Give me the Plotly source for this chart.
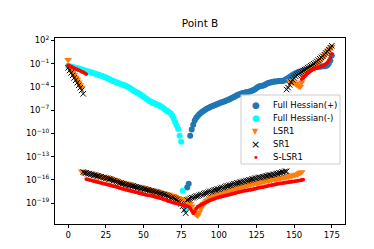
import plotly.graph_objects as go

# ---------------- data (log10 of eigenvalue magnitudes, by index) ----------------
hess_neg_x = list(range(0, 79))
hess_neg_log = [
    -1.3, -1.35, -1.4, -1.45, -1.5, -1.55, -1.6, -1.65, -1.7, -1.75,
    -1.82, -1.88, -1.95, -2.01, -2.07, -2.13, -2.19, -2.25, -2.31, -2.37,
    -2.43, -2.5, -2.57, -2.64, -2.72, -2.81, -2.9, -2.99, -3.08, -3.17,
    -3.26, -3.34, -3.42, -3.5, -3.58, -3.65, -3.72, -3.78, -3.85, -3.94,
    -4.04, -4.16, -4.3, -4.45, -4.58, -4.68, -4.77, -4.88, -5.0, -5.14,
    -5.28, -5.42, -5.56, -5.7, -5.82, -5.93, -6.03, -6.12, -6.2, -6.28,
    -6.36, -6.46, -6.58, -6.72, -6.88, -7.02, -7.15, -7.28, -7.42, -7.7,
    -8.1, -8.55, -9.0, -9.45, -10.3, -11.1,
    -17.4, -19.2, -19.8,
]

hess_pos_x = list(range(79, 176))
hess_pos_log = [
    -17.0, -16.5,
    -10.3, -9.5, -8.9, -8.35, -8.0, -7.75, -7.55, -7.38, -7.22, -7.08,
    -6.95, -6.84, -6.74, -6.64, -6.55, -6.46, -6.38, -6.3, -6.22, -6.14,
    -6.06, -5.98, -5.92, -5.86, -5.78, -5.7, -5.6, -5.5, -5.4, -5.3,
    -5.2, -5.1, -5.02, -4.94, -4.86, -4.8, -4.75, -4.7, -4.66, -4.62,
    -4.58, -4.52, -4.42, -4.3, -4.15, -4.02, -3.94, -3.9, -3.87, -3.8,
    -3.7, -3.58, -3.5, -3.45, -3.4, -3.36, -3.32, -3.3, -3.28, -3.26,
    -3.25, -3.24, -3.2, -3.1, -2.98, -2.85, -2.72, -2.6, -2.48, -2.36,
    -2.24, -2.15, -2.08, -2.03, -1.98, -1.92, -1.86, -1.8, -1.74, -1.68,
    -1.62, -1.56, -1.52, -1.48, -1.45, -1.42, -1.4, -1.38, -1.36, -1.34,
    -1.3, -1.2, -1.0, -0.6, 0.05,
]

lsr1_x = list(range(0, 10)) + list(range(9, 156)) + list(range(147, 176))
lsr1_log = [
    -0.5, -1.55, -1.85, -2.15, -2.45, -2.75, -3.05, -3.4, -3.75, -4.1,
    -14.9, -15.0, -15.0, -15.1, -15.1, -15.2, -15.2, -15.3, -15.3, -15.4,
    -15.4, -15.5, -15.5, -15.6, -15.6, -15.7, -15.7, -15.8, -15.8, -15.9,
    -15.9, -16.0, -16.1, -16.1, -16.2, -16.3,
    -16.3, -16.4, -16.4, -16.5, -16.5, -16.6, -16.6, -16.7, -16.7, -16.8,
    -16.8, -16.9, -16.9, -17.0, -17.0, -17.1, -17.1, -17.2, -17.2, -17.3,
    -17.3, -17.4,
    -17.4, -17.5, -17.5, -17.6, -17.6, -17.7, -17.7, -17.8, -17.8, -17.9,
    -17.9, -18.0, -18.1, -18.1, -18.2, -18.3,
    -18.3, -18.4, -18.5, -18.5, -18.6, -18.7, -18.8, -18.9,
    -19.1, -19.4, -19.8, -20.2, -20.5, -20.6, -20.2, -19.7, -19.3, -19.1,
    -18.9, -18.7, -18.6, -18.4, -18.3, -18.2, -18.0, -17.9,
    -17.9, -17.8, -17.7, -17.7, -17.6, -17.5, -17.5, -17.4, -17.4, -17.3,
    -17.2, -17.2, -17.1, -17.1, -17.0, -16.9, -16.9, -16.8, -16.8, -16.7,
    -16.7, -16.6, -16.6,
    -16.5, -16.5, -16.4, -16.4, -16.4, -16.3, -16.3, -16.2, -16.2, -16.1,
    -16.1, -16.1, -16.0, -16.0, -15.9, -15.9, -15.9, -15.8, -15.8, -15.8,
    -15.7, -15.7,
    -15.7, -15.6, -15.6, -15.5, -15.5, -15.4, -15.4, -15.3, -15.3, -15.2,
    -15.1, -15.0,
    -3.2, -3.3, -3.4, -3.5, -3.6, -3.75, -3.9, -4.0, -3.4, -2.7,
    -2.45, -2.25, -2.1, -1.95, -1.8, -1.65, -1.5, -1.3, -1.1, -0.9,
    -0.7, -0.5, -0.25, 0.0, 0.25, 0.5, 0.75, 0.95, 1.2,
]

sr1_x = list(range(0, 11)) + list(range(10, 146)) + list(range(145, 176))
sr1_log = [
    -1.55, -1.88, -2.2, -2.52, -2.85, -3.15, -3.47, -3.8, -4.12, -4.45, -4.9,
    -15.0, -15.1, -15.1, -15.2, -15.2, -15.3, -15.3, -15.4, -15.4, -15.5,
    -15.5, -15.6, -15.6, -15.7, -15.7, -15.8, -15.8, -15.9, -15.9, -16.0,
    -16.1, -16.1, -16.2, -16.3, -16.4,
    -16.4, -16.5, -16.5, -16.6, -16.6, -16.7, -16.7, -16.8, -16.8, -16.9,
    -16.9, -17.0, -17.0, -17.1, -17.1, -17.2, -17.2, -17.3, -17.3, -17.4,
    -17.4, -17.45,
    -17.5, -17.6, -17.6, -17.7, -17.8, -17.8, -17.9, -17.9, -18.0, -18.1,
    -18.2, -18.3, -18.3, -18.4, -18.5, -18.6,
    -18.8, -18.9, -19.1, -19.4, -19.9, -20.3,
    -18.6, -18.5, -18.4, -18.3,
    -18.3, -18.2, -18.1, -18.1, -18.0, -17.9, -17.9, -17.8, -17.7, -17.7,
    -17.6, -17.5, -17.5, -17.4, -17.3, -17.3,
    -17.2, -17.2, -17.1, -17.0, -17.0, -16.9, -16.8, -16.8, -16.7, -16.7,
    -16.6, -16.5, -16.5, -16.4, -16.4, -16.3, -16.3, -16.2, -16.2, -16.1,
    -16.1, -16.0, -16.0,
    -15.9, -15.9, -15.8, -15.8, -15.7, -15.7, -15.7, -15.6, -15.6, -15.5,
    -15.5, -15.4, -15.4, -15.4, -15.3, -15.3, -15.2, -15.2, -15.1, -15.1,
    -15.0, -15.0, -14.9, -14.9,
    -4.35, -4.1, -3.75, -3.4, -3.1, -2.85, -2.65, -2.5, -2.35, -2.2,
    -2.05, -1.9, -1.78, -1.65, -1.52, -1.4, -1.27, -1.15, -1.02, -0.88,
    -0.72, -0.55, -0.38, -0.2, -0.05, 0.15, 0.35, 0.55, 0.8, 1.05, 1.3,
]

slsr1_x = list(range(0, 13)) + list(range(12, 157)) + list(range(155, 176))
slsr1_log = [
    -1.2, -1.3, -1.4, -1.5, -1.6, -1.68, -1.76, -1.85, -1.94, -2.03,
    -2.12, -2.22, -2.35,
    -15.9, -15.95, -16.0, -16.05, -16.1, -16.15, -16.2, -16.25, -16.3, -16.35,
    -16.4, -16.45, -16.5, -16.55, -16.6, -16.65, -16.7, -16.75, -16.8, -16.85,
    -16.9, -16.95, -17.05,
    -17.1, -17.15, -17.2, -17.25, -17.3, -17.35, -17.4, -17.45, -17.5, -17.55,
    -17.6, -17.65, -17.7, -17.75, -17.8, -17.85, -17.9, -17.95, -18.0, -18.0,
    -18.05, -18.1,
    -18.15, -18.2, -18.25, -18.3, -18.35, -18.4, -18.5, -18.55, -18.6, -18.7,
    -18.75, -18.8, -18.9, -18.95, -19.0, -19.05, -19.1, -19.15, -19.2, -19.25,
    -19.3, -19.35, -19.4, -19.45,
    -19.7, -20.0, -20.3, -20.1, -19.7, -19.45,
    -19.35, -19.25, -19.15, -19.05, -18.95, -18.85, -18.75, -18.65, -18.6, -18.5,
    -18.45, -18.35,
    -18.3, -18.25, -18.2, -18.15, -18.1, -18.05, -18.0, -17.95, -17.9, -17.85,
    -17.8, -17.75, -17.7, -17.65, -17.6, -17.55, -17.5, -17.45, -17.4, -17.38,
    -17.35, -17.3, -17.28,
    -17.25, -17.2, -17.15, -17.1, -17.05, -17.0, -16.98, -16.95, -16.9, -16.85,
    -16.8, -16.76, -16.72, -16.68, -16.64, -16.6, -16.56, -16.52, -16.49, -16.46,
    -16.43, -16.4,
    -16.37, -16.34, -16.31, -16.28, -16.25, -16.22, -16.19, -16.16, -16.13, -16.1,
    -16.06, -16.02, -15.98,
    -3.0, -2.85, -2.65, -2.45, -2.25, -2.1, -1.95, -1.82, -1.72, -1.62,
    -1.55, -1.48, -1.42, -1.36, -1.3, -1.2, -1.05, -0.85, -0.6, -0.25, 0.25,
]

x_ticks = [0, 25, 50, 75, 100, 125, 150, 175]
y_tick_exp = [2, -1, -4, -7, -10, -13, -16, -19]
y_tick_text = ["10<sup>%s</sup>" % (str(e).replace("-", "\u2212")) for e in y_tick_exp]

legend_names = ["Full Hessian(+)", "Full Hessian(-)", "LSR1", "SR1", "S-LSR1"]
legend_glyphs = ["\u25cf", "\u25cf", "\u25bc", "\u00d7", "\u2022"]
legend_colors = ["#1f77b4", "#00ffff", "#ff7f0e", "#000000", "#ff0000"]
legend_glyph_sizes = [9, 9, 8, 11, 10]


def to_lin(vals):
    return [10.0 ** v for v in vals]


fig = go.Figure()
fig.add_trace(go.Scatter(x=hess_pos_x, y=to_lin(hess_pos_log), mode="markers",
                         name="Full Hessian(+)",
                         marker=dict(symbol="circle", size=6, color="#1f77b4")))
fig.add_trace(go.Scatter(x=hess_neg_x, y=to_lin(hess_neg_log), mode="markers",
                         name="Full Hessian(-)",
                         marker=dict(symbol="circle", size=6, color="#00ffff")))
fig.add_trace(go.Scatter(x=lsr1_x, y=to_lin(lsr1_log), mode="markers",
                         name="LSR1",
                         marker=dict(symbol="triangle-down", size=7, color="#ff7f0e")))
fig.add_trace(go.Scatter(x=sr1_x, y=to_lin(sr1_log), mode="markers",
                         name="SR1",
                         marker=dict(symbol="x-thin", size=5.5,
                                     line=dict(color="black", width=1))))
fig.add_trace(go.Scatter(x=slsr1_x, y=to_lin(slsr1_log), mode="markers",
                         name="S-LSR1",
                         marker=dict(symbol="circle", size=3.8, color="#ff0000")))

W, H = 374, 249
L, R, T, B = 47, 37, 30, 33

fig.update_layout(
    width=W, height=H,
    margin=dict(l=L, r=R, t=T, b=B),
    paper_bgcolor="white", plot_bgcolor="white",
    showlegend=False,
    font=dict(family="DejaVu Sans", size=8.5, color="black"),
    title=dict(text="Point B", x=0.5, xref="paper", xanchor="center",
               y=1 - 15 / H, yref="container", yanchor="middle",
               font=dict(size=10.5, color="black")),
)
fig.update_xaxes(range=[-8.75, 183.75], tickvals=x_ticks, ticks="outside",
                 ticklen=3, tickwidth=1, tickcolor="black",
                 showline=True, linecolor="black", linewidth=1, mirror=True,
                 showgrid=False, zeroline=False)
fig.update_yaxes(type="log", range=[-21.7, 2.3],
                 tickvals=[10.0 ** e for e in y_tick_exp], ticktext=y_tick_text,
                 ticks="outside", ticklen=3, tickwidth=1, tickcolor="black",
                 showline=True, linecolor="black", linewidth=1, mirror=True,
                 showgrid=False, zeroline=False)

# legend drawn as a box with text entries (matplotlib-style compact legend)
pw, ph = W - L - R, H - T - B
def px_x(p):
    return (p - L) / pw
def px_y(p):
    return (H - B - p) / ph

fig.add_shape(type="rect", xref="paper", yref="paper",
              x0=px_x(233), x1=px_x(332), y0=px_y(156), y1=px_y(87),
              fillcolor="rgba(255,255,255,0.8)", line=dict(color="#cccccc", width=1),
              layer="above")
row_y = [96.7, 110, 123, 136, 149]
for name, g, c, gs, ry in zip(legend_names, legend_glyphs, legend_colors,
                              legend_glyph_sizes, row_y):
    fig.add_annotation(x=px_x(247.5), y=px_y(ry), xref="paper", yref="paper",
                       text=g, showarrow=False, xanchor="center", yanchor="middle",
                       font=dict(size=gs, color=c))
    fig.add_annotation(x=px_x(262.5), y=px_y(ry), xref="paper", yref="paper",
                       text=name, showarrow=False, xanchor="left", yanchor="middle",
                       font=dict(size=8.5, color="black"))

fig.write_html("out.html")
